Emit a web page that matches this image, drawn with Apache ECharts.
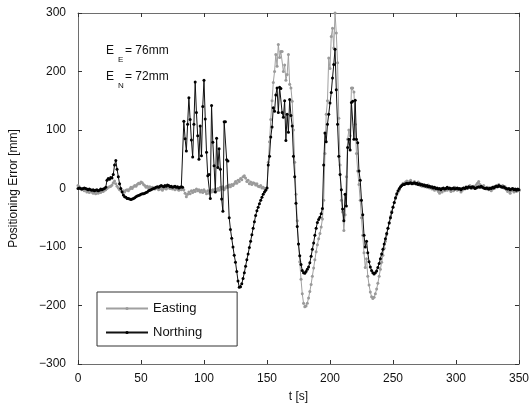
<!DOCTYPE html>
<html>
<head>
<meta charset="utf-8">
<script src="https://cdn.jsdelivr.net/npm/echarts@6/dist/echarts.min.js"></script>
<style>
  html, body { margin: 0; padding: 0; background: #fff; }
  #chart { width: 532px; height: 408px; }
</style>
</head>
<body>
<div id="chart"></div>
<script>
// Sampling of the position-error log
const T_START = 0;   // first sample [s]
const T_STEP = 1;    // sample spacing [s]

// Easting positioning error [mm], one value per second, t = 0 … 350 s
const easting = [
  5, 3, 0, -2, -1, -4, -3, -6, -5, -7,
  -4, -6, -8, -7, -9, -6, -8, -5, -7, -4,
  -5, -3, -2, 0, 2, 3, 4, 6, 10, 13,
  8, 4, 1, -2, -3, -5, -4, -6, -3, -2,
  -4, -1, 2, 0, 3, 5, 4, 7, 9, 8,
  11, 10, 7, 5, 2, 4, 1, 3, 0, 2,
  1, -1, 2, 0, -2, 1, -1, -3, 0, 2,
  -1, 1, 3, 0, 2, -1, 1, -2, 0, -1,
  -3, 0, -2, -1, -2, -8, -14, -10, -6, -9,
  -4, -7, -3, -5, -1, -4, -2, -6, -3, -7,
  -2, -5, -9, -4, -8, -3, -6, -2, -5, -1,
  -4, 0, -3, 2, -1, 3, -2, 1, 4, 2,
  6, 3, 7, 5, 8, 12, 9, 14, 12, 17,
  15, 20, 22, 18, 12, 14, 8, 11, 7, 10,
  9, 6, 8, 4, 3, 5, 1, 2, 0, -1,
  1, 45, 80, 118, 150, 181, 200, 229, 209, 246,
  224, 234, 234, 200, 211, 185, 195, 229, 178, 172,
  149, 100, 45, -10, -55, -95, -125, -155, -180, -196,
  -202, -201, -196, -187, -176, -164, -150, -136, -122, -108,
  -96, -86, -77, -66, -52, -20, 60, 127, 150, 223,
  205, 260, 274, 240, 300, 266, 215, 120, 40, -20,
  -40, -72, -45, 20, 84, 100, 90, 172, 172, 165,
  110, 60, 30, 7, -20, -50, -80, -110, -135, -120,
  -150, -165, -177, -185, -188, -186, -180, -172, -162, -150,
  -138, -126, -114, -102, -90, -79, -68, -58, -48, -39,
  -31, -24, -17, -11, -6, -2, 3, 6, 9, 8,
  11, 13, 9, 12, 14, 10, 8, 12, 9, 7,
  11, 6, 8, 4, 7, 3, 5, 2, 6, 1,
  3, -1, 2, -3, 0, -2, -5, -8, -3, -6,
  -1, -4, 0, -3, 1, -2, -5, -1, -4, 2,
  -1, -3, 0, -2, -6, -3, 1, -1, 3, 0,
  2, 5, 3, 1, 4, 2, 6, 9, 12, 7,
  4, 2, 5, 1, -1, 2, -2, 0, -4, -1,
  3, 1, 5, 3, 7, 4, 2, 5, 1, 3,
  -2, -5, -3, -8, -4, -1, -6, -3, -5, -2,
  -4
];

// Northing positioning error [mm], one value per second, t = 0 … 350 s
const northing = [
  0, 1, 0, -1, 0, 1, 0, -1, -2, -1,
  -2, -3, -2, -4, -3, -2, -4, -3, -1, -2,
  -1, 0, 2, 14, 17, 16, 19, 18, 24, 40,
  48, 33, 20, 8, 0, -6, -11, -14, -15, -17,
  -17, -18, -19, -18, -17, -16, -14, -13, -12, -11,
  -10, -9, -9, -8, -7, -6, -4, -3, -2, -1,
  0, 1, 2, 3, 2, 4, 5, 4, 3, 5,
  4, 6, 5, 3, 4, 2, 3, 4, 2, 3,
  1, 2, 3, 2, 115, 85, 64, 110, 155, 118,
  83, 54, 110, 182, 130, 90, 50, 107, 56, 140,
  185, 119, 62, 22, 24, -17, 142, 79, 39, -6,
  86, 36, 68, 33, -18, -39, 114, 114, 49, 47,
  -50, -70, -85, -100, -114, -126, -142, -158, -169, -168,
  -163, -154, -144, -133, -122, -112, -101, -90, -79, -68,
  -57, -46, -38, -32, -26, -20, -15, -10, -6, -3,
  1, 40, 55, 88, 105, 138, 132, 160, 172, 130,
  173, 171, 130, 122, 150, 82, 127, 96, 152, 125,
  107, 55, 20, -25, -65, -95, -115, -130, -140, -144,
  -145, -142, -138, -134, -127, -116, -104, -93, -80, -68,
  -58, -53, -49, -43, -34, 40, 95, 80, 110, 127,
  146, 164, 189, 212, 238, 169, 110, 55, 24, -2,
  -35, -55, -10, -30, 70, 84, 66, 147, 149, 84,
  151, 84, 78, 30, 14, -20, -45, -80, -100, -90,
  -110, -125, -134, -140, -144, -146, -144, -141, -135, -128,
  -120, -112, -104, -95, -86, -77, -68, -59, -50, -41,
  -32, -24, -16, -9, -4, 0, 3, 5, 7, 7,
  8, 9, 8, 9, 10, 8, 9, 10, 8, 9,
  7, 8, 6, 7, 5, 6, 4, 5, 3, 4,
  2, 3, 1, 2, 0, 1, -1, 0, -2, 0,
  1, -1, 0, 2, 0, 1, -1, 0, 1, -1,
  0, 1, -1, 0, -2, 0, 1, 0, 2, 1,
  3, 2, 1, 3, 2, 0, 1, 2, 3, 2,
  4, 2, 1, 0, 1, 0, -1, 1, 0, 2,
  1, 3, 4, 3, 5, 4, 3, 2, 3, 1,
  0, -1, 0, -2, -1, 0, -2, -1, -3, -1,
  -2
];

// RMS accuracies printed in the plot [mm]
const rmsEasting = 76;
const rmsNorthing = 72;

// Axis ranges and tick spacing
const xRange = [0, 350];
const xStep = 50;
const yRange = [-300, 300];
const yStep = 100;

const FONT = '"Liberation Sans", Arial, Helvetica, sans-serif';
const minus = v => String(v).replace('-', '\u2212');
const toPairs = arr => arr.map((v, i) => [T_START + i * T_STEP, v]);

const frameLine = { show: true, onZero: false, lineStyle: { color: '#6e6e6e', width: 1 } };
const tick = { show: true, inside: true, length: 4, lineStyle: { color: '#333', width: 1 } };

const xBase = { type: 'value', min: xRange[0], max: xRange[1], interval: xStep,
  axisLine: frameLine, axisTick: tick, splitLine: { show: false } };
const yBase = { type: 'value', min: yRange[0], max: yRange[1], interval: yStep,
  axisLine: frameLine, axisTick: tick, splitLine: { show: false } };

const chart = echarts.init(document.getElementById('chart'), null, { renderer: 'canvas' });

chart.setOption({
  animation: false,
  backgroundColor: '#fff',
  grid: { left: 78, right: 6, top: 13, bottom: 42 },
  xAxis: [
    Object.assign({}, xBase, {
      position: 'bottom',
      name: 't [s]', nameLocation: 'middle', nameGap: 27,
      nameTextStyle: { fontFamily: FONT, fontSize: 12, color: '#111' },
      axisLabel: { fontFamily: FONT, fontSize: 12, color: '#111', margin: 9 }
    }),
    Object.assign({}, xBase, { position: 'top', axisLabel: { show: false } })
  ],
  yAxis: [
    Object.assign({}, yBase, {
      position: 'left',
      name: 'Positioning Error [mm]', nameLocation: 'middle', nameGap: 58,
      nameTextStyle: { fontFamily: FONT, fontSize: 12, color: '#111' },
      axisLabel: { fontFamily: FONT, fontSize: 12, color: '#111', margin: 12, formatter: minus }
    }),
    Object.assign({}, yBase, { position: 'right', axisLabel: { show: false } })
  ],
  legend: {
    orient: 'vertical',
    left: 97, top: 292,
    padding: [10, 35, 7, 8],
    itemGap: 11,
    itemWidth: 42,
    itemHeight: 4,
    borderColor: '#333',
    borderWidth: 1,
    backgroundColor: '#fff',
    textStyle: { fontFamily: FONT, fontSize: 13, color: '#111' },
    data: ['Easting', 'Northing']
  },
  series: [
    {
      name: 'Easting', type: 'line', xAxisIndex: 0, yAxisIndex: 0,
      data: toPairs(easting),
      symbol: 'circle', symbolSize: 3, showSymbol: true,
      itemStyle: { color: '#9a9a9a' },
      lineStyle: { color: '#a0a0a0', width: 1 },
      z: 2
    },
    {
      name: 'Northing', type: 'line', xAxisIndex: 0, yAxisIndex: 0,
      data: toPairs(northing),
      symbol: 'circle', symbolSize: 3, showSymbol: true,
      itemStyle: { color: '#000' },
      lineStyle: { color: '#111', width: 1 },
      z: 3
    }
  ],
  graphic: [
    { type: 'text', x: 106, y: 51, style: { text: 'E', font: '12px ' + FONT, fill: '#111', verticalAlign: 'middle' } },
    { type: 'text', x: 118, y: 60, style: { text: 'E', font: '8px ' + FONT, fill: '#111', verticalAlign: 'middle' } },
    { type: 'text', x: 125, y: 51, style: { text: '= ' + rmsEasting + 'mm', font: '12px ' + FONT, fill: '#111', verticalAlign: 'middle' } },
    { type: 'text', x: 106, y: 77, style: { text: 'E', font: '12px ' + FONT, fill: '#111', verticalAlign: 'middle' } },
    { type: 'text', x: 118, y: 86, style: { text: 'N', font: '8px ' + FONT, fill: '#111', verticalAlign: 'middle' } },
    { type: 'text', x: 125, y: 77, style: { text: '= ' + rmsNorthing + 'mm', font: '12px ' + FONT, fill: '#111', verticalAlign: 'middle' } }
  ]
});
</script>
</body>
</html>
